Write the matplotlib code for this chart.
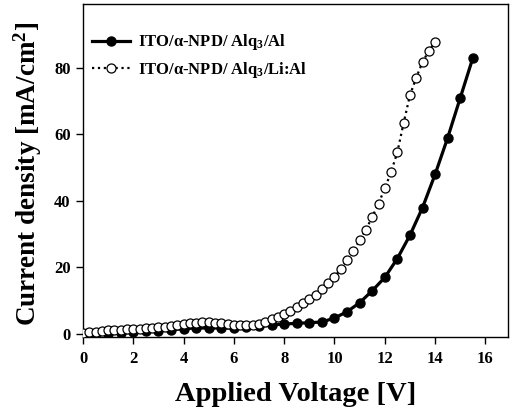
import matplotlib
matplotlib.use("Agg")
import matplotlib.pyplot as plt

plt.rcParams['font.family'] = ['Liberation Serif', 'DejaVu Serif']
plt.rcParams['font.weight'] = 'bold'
plt.rcParams['mathtext.fontset'] = 'custom'
plt.rcParams['mathtext.rm'] = 'Liberation Serif:bold'
plt.rcParams['mathtext.it'] = 'Liberation Serif:bold'
plt.rcParams['mathtext.bf'] = 'Liberation Serif:bold'

# Series 1: ITO/a-NPD/Alq3/Al (filled)
v_al = [0, 0.5, 1, 1.5, 2, 2.5, 3, 3.5, 4, 4.5, 5, 5.5, 6, 6.5, 7, 7.5, 8, 8.5,
        9, 9.5, 10, 10.5, 11, 11.5, 12, 12.5, 13, 13.5, 14, 14.5, 15, 15.5]
j_al = [0, 0, 0.1, 0.3, 0.5, 0.8, 1.0, 1.3, 1.6, 1.8, 1.8, 1.8, 1.8, 2.0, 2.3, 2.7, 3.0, 3.2,
        3.4, 3.6, 4.8, 6.7, 9.4, 13.0, 17.0, 22.7, 29.7, 38.0, 48.0, 59.0, 71.0, 83.0]

# Series 2: ITO/a-NPD/Alq3/Li:Al (open)
v_li = [0, 0.25, 0.5, 0.75, 1, 1.25, 1.5, 1.75, 2, 2.25, 2.5, 2.75, 3, 3.25, 3.5, 3.75,
        4, 4.25, 4.5, 4.75, 5, 5.25, 5.5, 5.75, 6, 6.25, 6.5, 6.75, 7, 7.25, 7.5, 7.75,
        8, 8.25, 8.5, 8.75, 9, 9.25, 9.5, 9.75, 10, 10.25, 10.5, 10.75, 11, 11.25, 11.5,
        11.75, 12, 12.25, 12.5, 12.75, 13, 13.25, 13.5, 13.75, 14]
j_li = [0.2, 0.5, 0.7, 0.9, 1.1, 1.2, 1.3, 1.4, 1.5, 1.6, 1.7, 1.8, 2.0, 2.2, 2.5, 2.8,
        3.0, 3.2, 3.4, 3.5, 3.5, 3.4, 3.2, 3.0, 2.8, 2.7, 2.7, 2.8, 3.0, 3.5, 4.4, 5.2,
        6.0, 7.0, 8.0, 9.2, 10.4, 11.7, 13.4, 15.2, 17.2, 19.5, 22.2, 25.0, 28.2, 31.4, 35.2,
        39.2, 43.8, 48.7, 54.7, 63.5, 71.8, 77.1, 81.8, 85.1, 87.8]

labels = ["ITO/\u03b1-NPD/ Alq$_3$/Al", "ITO/\u03b1-NPD/ Alq$_3$/Li:Al"]
xticks = [0, 2, 4, 6, 8, 10, 12, 14, 16]
yticks = [0, 20, 40, 60, 80]

fig = plt.figure(figsize=(5.13, 4.15), dpi=100)
ax = fig.add_axes([0.1618, 0.188, 0.8285, 0.802])

ax.plot(v_al, j_al, '-', color='black', lw=2.3, marker='o', ms=6.5,
        mfc='black', mec='black', label=labels[0], zorder=2)
ax.plot(v_li, j_li, ':', color='black', lw=1.6, marker='o', ms=6.5,
        mfc='white', mec='black', mew=0.9, label=labels[1], zorder=3)

ax.set_xlim(0, 16.9)
ax.set_ylim(-0.9, 99.2)
ax.set_xticks(xticks)
ax.set_yticks(yticks)
ax.tick_params(direction='out', length=5, width=1, labelsize=12)
ax.tick_params(axis='x', pad=5)
ax.tick_params(axis='y', pad=4)
for lab in ax.get_xticklabels() + ax.get_yticklabels():
    lab.set_fontweight('bold')
for s in ax.spines.values():
    s.set_linewidth(1.0)

ax.set_xlabel("Applied Voltage [V]", fontsize=20.5, fontweight='bold', labelpad=11)
ax.set_ylabel("Current density [mA/cm$^2$]", fontsize=19.5, fontweight='bold')
ax.yaxis.set_label_coords(-0.092, 0.49)

leg = ax.legend(loc='upper left', bbox_to_anchor=(0.005, 0.935), frameon=False,
                fontsize=12, handlelength=2.3, handletextpad=0.5, labelspacing=0.45,
                borderaxespad=0)
for t in leg.get_texts():
    t.set_fontweight('bold')

fig.savefig("out.png", dpi=100)
